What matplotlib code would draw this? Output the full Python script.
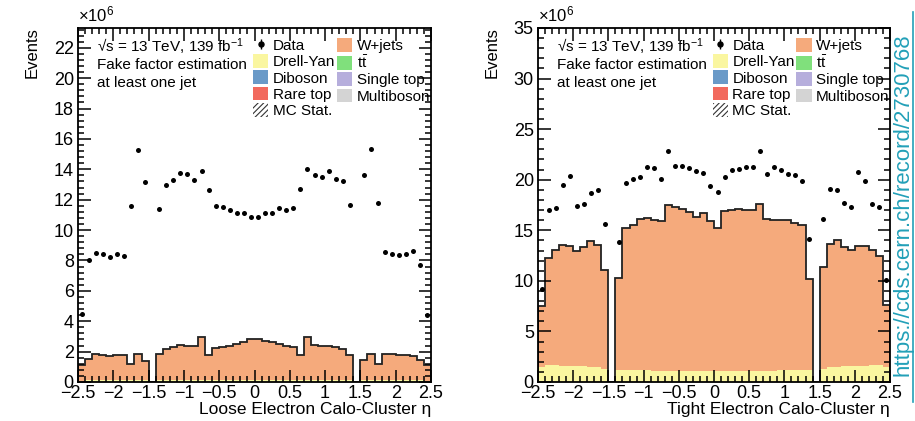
import numpy as np
import matplotlib
matplotlib.use('Agg')
from matplotlib import pyplot as plt
from matplotlib.patches import Patch
from matplotlib.lines import Line2D
from matplotlib.ticker import MultipleLocator, FuncFormatter

plt.rcParams['font.family'] = ['Liberation Sans', 'DejaVu Sans']
plt.rcParams['mathtext.fontset'] = 'custom'
plt.rcParams['mathtext.rm'] = 'Liberation Sans'
plt.rcParams['mathtext.it'] = 'Liberation Sans:italic'
plt.rcParams['hatch.linewidth'] = 0.8

nan = np.nan

# 50 bins of 0.1 in eta, -2.5 .. 2.5 (values in units of 1e6 events)
eta_edges = np.round(np.arange(-2.5, 2.501, 0.1), 2)

left_data = [4.5, 8.0, 8.5, 8.45, 8.25, 8.4, 8.3, 11.58, 15.3, 13.16,
             nan, 11.38, 12.94, 13.29, 13.77, 13.66, 13.29, 13.86, 12.63, 11.58,
             11.54, 11.32, 11.1, 11.1, 10.83, 10.83, 11.1, 11.15, 11.44, 11.32,
             11.42, 12.72, 14.0, 13.64, 13.51, 13.9, 13.36, 13.2, 11.64, nan,
             13.6, 15.35, 11.75, 8.55, 8.42, 8.33, 8.42, 8.6, 7.7, 4.4]
left_dy = [0.08, 0.1, 0.1, 0.1, 0.1, 0.1, 0.1, 0.1, 0.1, 0.1,
           0.0, 0.1, 0.12, 0.12, 0.12, 0.12, 0.12, 0.12, 0.12, 0.12,
           0.12, 0.12, 0.12, 0.12, 0.12, 0.12, 0.12, 0.12, 0.12, 0.12,
           0.12, 0.12, 0.12, 0.12, 0.12, 0.12, 0.12, 0.12, 0.1, 0.0,
           0.1, 0.1, 0.1, 0.1, 0.1, 0.1, 0.1, 0.1, 0.1, 0.08]
left_mc_total = [1.1, 1.5, 1.84, 1.78, 1.71, 1.8, 1.75, 1.18, 1.84, 1.4,
                 0.0, 1.84, 2.17, 2.32, 2.43, 2.39, 2.39, 2.98, 1.78, 2.21,
                 2.28, 2.37, 2.48, 2.65, 2.8, 2.8, 2.72, 2.6, 2.5, 2.4,
                 2.3, 1.78, 2.98, 2.45, 2.35, 2.4, 2.3, 2.2, 1.8, 0.0,
                 1.45, 1.84, 1.2, 1.84, 1.82, 1.76, 1.76, 1.74, 1.45, 1.1]

right_data = [9.2, 16.96, 17.25, 19.44, 20.36, 17.39, 17.55, 18.73, 18.95, 15.59,
              nan, 13.86, 19.7, 20.1, 20.23, 21.24, 21.2, 20.07, 22.84, 21.4,
              21.4, 21.15, 20.88, 20.65, 19.38, 18.76, 20.29, 20.95, 21.08, 21.27,
              21.27, 22.87, 20.55, 21.3, 20.95, 20.55, 20.5, 19.87, 14.09, nan,
              16.1, 19.09, 18.95, 17.65, 17.35, 20.72, 19.87, 17.6, 17.3, 10.07]
right_dy = [1.5, 1.65, 1.65, 1.62, 1.6, 1.58, 1.55, 1.5, 1.45, 1.3,
            0.0, 1.2, 1.2, 1.18, 1.15, 1.15, 1.12, 1.12, 1.1, 1.1,
            1.1, 1.08, 1.08, 1.08, 1.05, 1.05, 1.08, 1.08, 1.08, 1.1,
            1.1, 1.1, 1.12, 1.12, 1.15, 1.15, 1.18, 1.2, 1.2, 0.0,
            1.3, 1.45, 1.5, 1.55, 1.58, 1.6, 1.62, 1.65, 1.65, 1.5]
right_mc_total = [7.5, 12.28, 13.1, 13.5, 13.45, 12.94, 13.37, 13.92, 13.5, 11.08,
                  0.0, 10.33, 15.23, 15.55, 16.1, 16.2, 16.05, 15.88, 17.5, 17.3,
                  17.1, 16.76, 16.3, 16.75, 15.9, 15.2, 16.86, 16.99, 17.1, 17.0,
                  17.05, 17.6, 16.1, 16.05, 16.0, 16.0, 15.7, 15.5, 10.16, 0.0,
                  11.4, 13.69, 14.08, 13.3, 13.07, 13.47, 13.47, 13.07, 12.45, 7.6]

colors = {
    'W+jets': '#f5aa7c',
    'Drell-Yan': '#faf6a0',
    'Diboson': '#6a9ac8',
    'ttbar': '#80e07c',
    'Single top': '#b6aedc',
    'Rare top': '#f26a5e',
    'Multiboson': '#d4d4d4',
}

fig = plt.figure(figsize=(9.15, 4.21), dpi=100)
W, H = 915.0, 421.0


def fmt_eta(v, pos):
    return ('%g' % round(v, 2)).replace('-', '\u2212')


def draw_panel(ax, data, dy, total, ymax, ymajor, yminor, xlabel):
    dy = np.array(dy)
    total = np.array(total)
    centers = 0.5 * (eta_edges[1:] + eta_edges[:-1])
    ax.stairs(dy, eta_edges, baseline=0, fill=True, color=colors['Drell-Yan'], lw=0)
    ax.stairs(total, eta_edges, baseline=dy, fill=True, color=colors['W+jets'], lw=0)
    ax.stairs(total, eta_edges, baseline=0, color='#222222', lw=1.3)
    ax.plot(centers, data, 'o', color='black', ms=3.6, mew=0)

    ax.set_xlim(-2.5, 2.5)
    ax.set_ylim(0, ymax)
    ax.xaxis.set_major_locator(MultipleLocator(0.5))
    ax.xaxis.set_minor_locator(MultipleLocator(0.1))
    ax.xaxis.set_major_formatter(FuncFormatter(fmt_eta))
    ax.yaxis.set_major_locator(MultipleLocator(ymajor))
    ax.yaxis.set_minor_locator(MultipleLocator(yminor))
    ax.tick_params(which='both', direction='in', top=True, right=True, width=1.1, colors='black')
    ax.tick_params(which='major', length=9, labelsize=13)
    ax.tick_params(which='minor', length=4.5)
    ax.tick_params(axis='x', pad=2)
    ax.tick_params(axis='y', pad=3)
    for sp in ax.spines.values():
        sp.set_linewidth(1.3)
    ax.set_xlabel(xlabel, loc='right', fontsize=12.5, labelpad=0)

    ax.text(0.054, 0.947, '√s = 13 TeV, 139 fb$^{-1}$', transform=ax.transAxes,
            fontsize=11, va='center')
    ax.text(0.054, 0.895, 'Fake factor estimation', transform=ax.transAxes,
            fontsize=11, va='center')
    ax.text(0.054, 0.844, 'at least one jet', transform=ax.transAxes,
            fontsize=11, va='center')

    handles = [
        (Line2D([], [], color='black', marker='|', ms=7, ls='none', mew=1),
         Line2D([], [], color='black', marker='o', ms=3.6, ls='none')),
        Patch(facecolor=colors['Drell-Yan'], lw=0),
        Patch(facecolor=colors['Diboson'], lw=0),
        Patch(facecolor=colors['Rare top'], lw=0),
        Patch(facecolor='none', edgecolor='#333333', hatch='//////', lw=0),
        Patch(facecolor=colors['W+jets'], lw=0),
        Patch(facecolor=colors['ttbar'], lw=0),
        Patch(facecolor=colors['Single top'], lw=0),
        Patch(facecolor=colors['Multiboson'], lw=0),
    ]
    labels = ['Data', 'Drell-Yan', 'Diboson', 'Rare top', 'MC Stat.',
              'W+jets', r'$\mathrm{t\bar{t}}$', 'Single top', 'Multiboson']
    ax.legend(handles, labels, ncol=2, loc='upper left', bbox_to_anchor=(0.496, 0.972),
              frameon=False, fontsize=11, borderpad=0, borderaxespad=0,
              handlelength=1.0, handleheight=1.0, handletextpad=0.3,
              columnspacing=0.1, labelspacing=0.08)


ax1 = fig.add_axes([78 / W, 39 / H, 353 / W, 354 / H])
draw_panel(ax1, left_data, left_dy, left_mc_total, 23.3, 2, 0.4,
           'Loose Electron Calo-Cluster η')
ax2 = fig.add_axes([538 / W, 39 / H, 352 / W, 354 / H])
draw_panel(ax2, right_data, right_dy, right_mc_total, 35.0, 5, 1,
           'Tight Electron Calo-Cluster η')

for x0 in (78, 538):
    fig.text(x0 / W, 1 - 21 / H, r'$\times10^{6}$', fontsize=12, ha='left', va='baseline')
    fig.text((x0 - 46) / W, 1 - 27 / H, 'Events', fontsize=12, rotation=90,
             ha='center', va='top')

url_color = '#22a0b8'
fig.text(903 / W, 1 - 205 / H, 'https://cds.cern.ch/record/2730768', fontsize=16,
         rotation=90, ha='center', va='center', color=url_color)
fig.add_artist(Line2D([913 / W, 913 / W], [1 - 402 / H, 1 - 12 / H],
                      color=url_color, lw=1.2, transform=fig.transFigure))

plt.savefig('out.png', dpi=100)
